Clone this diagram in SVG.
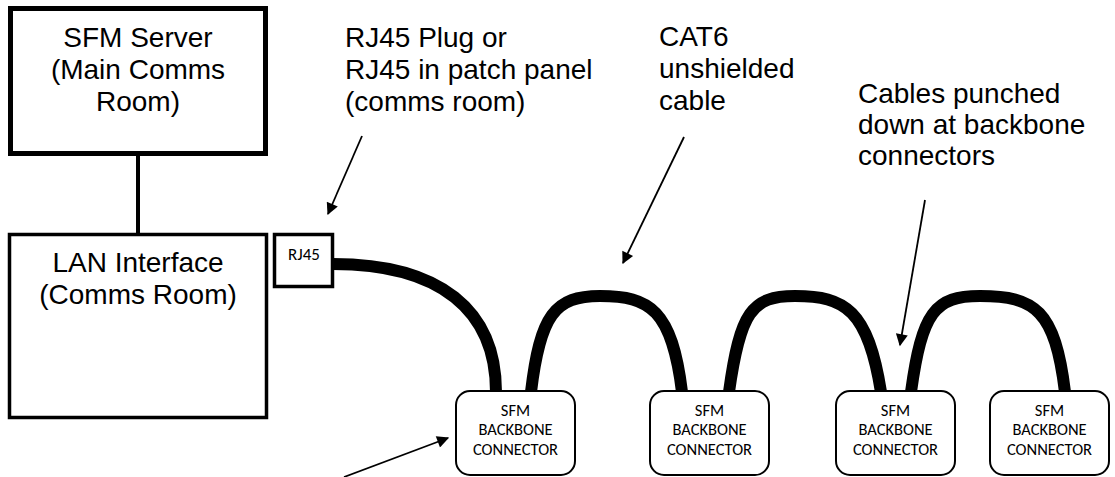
<svg xmlns="http://www.w3.org/2000/svg" width="1115" height="477" viewBox="0 0 1115 477">
<style>
.lbl{font-family:"Liberation Sans",Arial,sans-serif;font-size:28px;fill:#000}
.big{font-family:"Liberation Sans",Arial,sans-serif;font-size:28px;fill:#000;text-anchor:middle}
.small{font-family:Carlito,Calibri,"Open Sans","DejaVu Sans",sans-serif;font-size:16.5px;fill:#000;text-anchor:middle}
.conn{fill:#fff;stroke:#000;stroke-width:2}
.cable{fill:none;stroke:#000;stroke-width:12}
.ptr{fill:none;stroke:#000;stroke-width:1.8;marker-end:url(#ah)}
</style>
<defs>
<marker id="ah" viewBox="0 0 10 10" refX="9" refY="5" markerWidth="15" markerHeight="12" markerUnits="userSpaceOnUse" orient="auto">
<path d="M0,0 L10,5 L0,10 z" fill="#000"/>
</marker>
</defs>
<rect width="1115" height="477" fill="#fff"/>
<g id="connectors">
<line x1="138" y1="156" x2="138" y2="234" stroke="#000" stroke-width="4"/>
<path class="cable" d="M333,264 C440,264 496,310 496,392"/>
<path class="cable" d="M531,392 C540,315 555,296 600,296 C650,296 672,310 682,392"/>
<path class="cable" d="M729,392 C740,312 752,296 795,296 C845,296 868,310 881,392"/>
<path class="cable" d="M911,392 C922,312 935,296 980,296 C1035,296 1055,310 1065,392"/>
<line class="ptr" x1="362" y1="136" x2="328" y2="214"/>
<line class="ptr" x1="684" y1="137" x2="623" y2="263"/>
<line class="ptr" x1="925" y1="200" x2="900" y2="345"/>
<line class="ptr" x1="344" y1="477" x2="448" y2="438"/>
</g>
<g id="server">
<rect x="10.5" y="8.5" width="255" height="145" fill="none" stroke="#000" stroke-width="5"/>
<text class="big" x="138" y="47">SFM Server</text>
<text class="big" x="138" y="79">(Main Comms</text>
<text class="big" x="138" y="111">Room)</text>
</g>
<g id="lan">
<rect x="9.5" y="234.5" width="257" height="183" fill="none" stroke="#000" stroke-width="3.5"/>
<text class="big" x="138" y="272">LAN Interface</text>
<text class="big" x="138" y="304">(Comms Room)</text>
</g>
<g id="rj45">
<rect x="274.5" y="234.5" width="58" height="52" fill="#fff" stroke="#000" stroke-width="3.5"/>
<text class="small" x="304" y="260" style="font-size:17px">RJ45</text>
</g>
<g id="bb1">
<rect class="conn" x="456" y="391" width="119" height="84" rx="14"/>
<text class="small" x="515.5" y="416">SFM</text>
<text class="small" x="515.5" y="435">BACKBONE</text>
<text class="small" x="515.5" y="455">CONNECTOR</text>
</g>
<g id="bb2">
<rect class="conn" x="650" y="391" width="119" height="84" rx="14"/>
<text class="small" x="709.5" y="416">SFM</text>
<text class="small" x="709.5" y="435">BACKBONE</text>
<text class="small" x="709.5" y="455">CONNECTOR</text>
</g>
<g id="bb3">
<rect class="conn" x="836" y="391" width="119" height="84" rx="14"/>
<text class="small" x="895.5" y="416">SFM</text>
<text class="small" x="895.5" y="435">BACKBONE</text>
<text class="small" x="895.5" y="455">CONNECTOR</text>
</g>
<g id="bb4">
<rect class="conn" x="990" y="391" width="119" height="84" rx="14"/>
<text class="small" x="1049.5" y="416">SFM</text>
<text class="small" x="1049.5" y="435">BACKBONE</text>
<text class="small" x="1049.5" y="455">CONNECTOR</text>
</g>
<g id="label-rj45">
<text class="lbl" x="345" y="47">RJ45 Plug or</text>
<text class="lbl" x="345" y="79">RJ45 in patch panel</text>
<text class="lbl" x="345" y="111">(comms room)</text>
</g>
<g id="label-cat6">
<text class="lbl" x="659" y="46">CAT6</text>
<text class="lbl" x="659" y="78">unshielded</text>
<text class="lbl" x="659" y="110">cable</text>
</g>
<g id="label-punch">
<text class="lbl" x="858" y="103">Cables punched</text>
<text class="lbl" x="858" y="134">down at backbone</text>
<text class="lbl" x="858" y="165">connectors</text>
</g>
</svg>
